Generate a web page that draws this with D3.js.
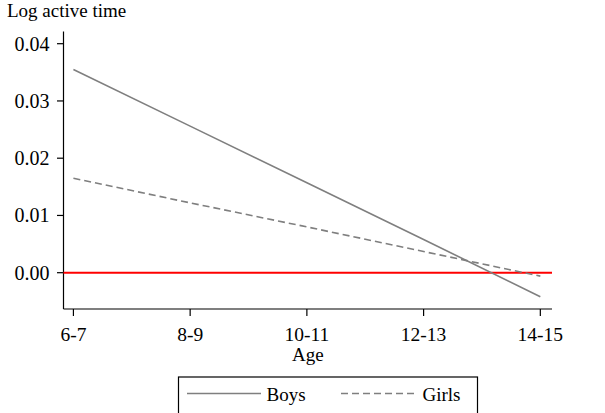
<!DOCTYPE html>
<html>
<head>
<meta charset="utf-8">
<script src="https://cdn.jsdelivr.net/npm/d3@7"></script>
<style>
  html, body { margin: 0; padding: 0; background: #fff; }
  svg { display: block; }
  text { font-family: "Liberation Serif", serif; fill: #000; }
</style>
</head>
<body>
<svg id="chart" width="605" height="413"></svg>
<script>
// Age groups on the x axis
const ages = ["6-7", "8-9", "10-11", "12-13", "14-15"];
// Predicted effect on log active time, by age group
const boys  = [0.0355, 0.0256, 0.0157, 0.0058, -0.0042];
const girls = [0.0165, 0.0122, 0.0080, 0.0037, -0.0006];
// Y axis ticks
const yTicks = [0.00, 0.01, 0.02, 0.03, 0.04];

(function () {
const svg = d3.select("#chart");
const plotL = 63.5, plotR = 552, plotT = 31.5, plotB = 309;

const x = d3.scaleLinear().domain([-0.085, 4.1]).range([plotL, plotR]);
const y = d3.scaleLinear().domain([0, 0.04]).range([272.7, 43.7]);

// Y axis
const gy = svg.append("g").attr("transform", `translate(${plotL},0)`);
gy.append("line").attr("x1", 0).attr("x2", 0).attr("y1", plotT).attr("y2", plotB)
  .attr("stroke", "#000").attr("stroke-width", 1.2);
yTicks.forEach(t => {
  gy.append("line").attr("x1", -6.5).attr("x2", 0).attr("y1", y(t)).attr("y2", y(t))
    .attr("stroke", "#000").attr("stroke-width", 1.2);
  gy.append("text").attr("x", -14).attr("y", y(t) + 7)
    .attr("text-anchor", "end").attr("font-size", 20).text(d3.format(".2f")(t));
});

// X axis
const gx = svg.append("g").attr("transform", `translate(0,${plotB})`);
gx.append("line").attr("x1", plotL).attr("x2", plotR).attr("y1", 0).attr("y2", 0)
  .attr("stroke", "#000").attr("stroke-width", 1.2);
ages.forEach((a, i) => {
  gx.append("line").attr("x1", x(i)).attr("x2", x(i)).attr("y1", 0).attr("y2", 7)
    .attr("stroke", "#000").attr("stroke-width", 1.2);
  gx.append("text").attr("x", x(i)).attr("y", 31.5)
    .attr("text-anchor", "middle").attr("font-size", 19.5).text(a);
});

// Titles
svg.append("text").attr("x", 7).attr("y", 17).attr("font-size", 19).text("Log active time");
svg.append("text").attr("x", (plotL + plotR) / 2).attr("y", 361)
  .attr("text-anchor", "middle").attr("font-size", 19).text("Age");

// Zero reference line
svg.append("line").attr("x1", plotL).attr("x2", plotR).attr("y1", y(0)).attr("y2", y(0))
  .attr("stroke", "#ff0000").attr("stroke-width", 2);

// Series
const line = d3.line().x((d, i) => x(i)).y(d => y(d));
svg.append("path").datum(boys).attr("d", line)
  .attr("fill", "none").attr("stroke", "#7f7f7f").attr("stroke-width", 1.6);
svg.append("path").datum(girls).attr("d", line)
  .attr("fill", "none").attr("stroke", "#7f7f7f").attr("stroke-width", 1.6)
  .attr("stroke-dasharray", "7,4");

// Legend
const lg = svg.append("g");
lg.append("rect").attr("x", 178.5).attr("y", 377).attr("width", 299).attr("height", 50)
  .attr("fill", "#fff").attr("stroke", "#000").attr("stroke-width", 1.2);
lg.append("line").attr("x1", 187).attr("x2", 261).attr("y1", 393.5).attr("y2", 393.5)
  .attr("stroke", "#7f7f7f").attr("stroke-width", 1.6);
lg.append("text").attr("x", 266.5).attr("y", 401).attr("font-size", 19).text("Boys");
lg.append("line").attr("x1", 341).attr("x2", 417).attr("y1", 393.5).attr("y2", 393.5)
  .attr("stroke", "#7f7f7f").attr("stroke-width", 1.6).attr("stroke-dasharray", "7,4");
lg.append("text").attr("x", 422.5).attr("y", 401).attr("font-size", 19).text("Girls");
})();
</script>
</body>
</html>
